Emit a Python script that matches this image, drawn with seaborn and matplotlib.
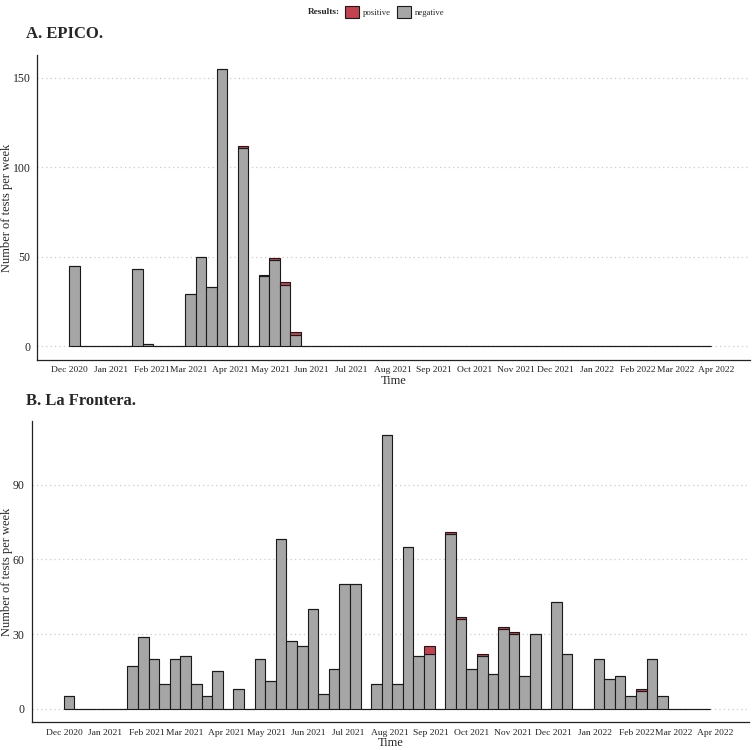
import pandas as pd
import matplotlib
matplotlib.use("Agg")
import matplotlib.pyplot as plt
import matplotlib.dates as mdates
from matplotlib.patches import Patch
import seaborn as sns

# -----------------------------
# DATA : tests per bin (61 bins of ~8 days from 1 Dec 2020)
# -----------------------------
bin_edges = pd.date_range("2020-12-01", "2022-03-28", periods=62)

epico_negative = [45, 0, 0, 0, 0, 0, 43, 1, 0, 0, 0, 29, 50, 33, 155, 0, 111, 0, 39, 48,
                  34, 6, 0, 0, 0, 0, 0, 0, 0, 0, 0, 0, 0, 0, 0, 0, 0, 0, 0, 0,
                  0, 0, 0, 0, 0, 0, 0, 0, 0, 0, 0, 0, 0, 0, 0, 0, 0, 0, 0, 0, 0]
epico_positive = [0, 0, 0, 0, 0, 0, 0, 0, 0, 0, 0, 0, 0, 0, 0, 0, 1, 0, 1, 1,
                  2, 2, 0, 0, 0, 0, 0, 0, 0, 0, 0, 0, 0, 0, 0, 0, 0, 0, 0, 0,
                  0, 0, 0, 0, 0, 0, 0, 0, 0, 0, 0, 0, 0, 0, 0, 0, 0, 0, 0, 0, 0]

frontera_negative = [5, 0, 0, 0, 0, 0, 17, 29, 20, 10, 20, 21, 10, 5, 15, 0, 8, 0, 20, 11,
                     68, 27, 25, 40, 6, 16, 50, 50, 0, 10, 110, 10, 65, 21, 22, 0, 70, 36, 16, 21,
                     14, 32, 30, 13, 30, 0, 43, 22, 0, 0, 20, 12, 13, 5, 7, 20, 5, 0, 0, 0, 0]
frontera_positive = [0, 0, 0, 0, 0, 0, 0, 0, 0, 0, 0, 0, 0, 0, 0, 0, 0, 0, 0, 0,
                     0, 0, 0, 0, 0, 0, 0, 0, 0, 0, 0, 0, 0, 0, 3, 0, 1, 1, 0, 1,
                     0, 1, 1, 0, 0, 0, 0, 0, 0, 0, 0, 0, 0, 0, 1, 0, 0, 0, 0, 0, 0]

results = ["positive", "negative"]
colors = {"positive": "#C4424F", "negative": "#A6A6A6"}

edges_num = list(mdates.date2num(bin_edges))
centers_num = [(a + b) / 2 for a, b in zip(edges_num[:-1], edges_num[1:])]


def make_frame(neg, pos):
    rows = []
    for c, n, p in zip(centers_num, neg, pos):
        rows.append({"date": c, "Results": "positive", "count": p})
        rows.append({"date": c, "Results": "negative", "count": n})
    return pd.DataFrame(rows)


sns.set_style("white")
plt.rcParams["font.family"] = ["Liberation Serif", "DejaVu Serif"]

fig = plt.figure(figsize=(7.53, 7.5), dpi=100)
ax_a = fig.add_axes([0.0495, 0.52, 0.9465, 0.4067])
ax_b = fig.add_axes([0.0421, 0.0367, 0.9526, 0.402])

panels = [
    (ax_a, make_frame(epico_negative, epico_positive), [0, 50, 100, 150], (-7.75, 162.75), -0.034),
    (ax_b, make_frame(frontera_negative, frontera_positive), [0, 30, 60, 90], (-5.5, 115.5), -0.026),
]

for ax, df, yticks, ylim, ylab_x in panels:
    sns.histplot(data=df, x="date", weights="count", hue="Results", hue_order=results,
                 multiple="stack", bins=edges_num, palette=colors, alpha=1,
                 edgecolor="#1a1a1a", linewidth=0.8, legend=False, ax=ax, zorder=3)
    ax.set_xlim(mdates.date2num(pd.Timestamp("2020-11-07")),
                mdates.date2num(pd.Timestamp("2022-04-26")))
    ax.set_ylim(*ylim)
    ax.set_yticks(yticks)
    ax.xaxis.set_major_locator(mdates.MonthLocator())
    ax.xaxis.set_major_formatter(mdates.DateFormatter("%b %Y"))
    ax.grid(axis="y", linestyle=(0, (1, 2.5)), color="#cccccc", linewidth=0.9, zorder=0)
    ax.grid(axis="x", visible=False)
    for side in ["top", "right"]:
        ax.spines[side].set_visible(False)
    for side in ["left", "bottom"]:
        ax.spines[side].set_color("#222222")
        ax.spines[side].set_linewidth(0.9)
    ax.tick_params(axis="x", labelsize=6.8, length=3, width=0.8, color="#333333",
                   labelcolor="#222222", pad=1.5)
    ax.tick_params(axis="y", labelsize=8.5, length=3, width=0.8, color="#333333",
                   labelcolor="#222222", pad=2)
    ax.set_xlabel("Time", fontsize=9, labelpad=0.5)
    ax.set_ylabel("Number of tests per week", fontsize=9)
    ax.yaxis.set_label_coords(ylab_x, 0.5)

# panel titles
fig.text(26 / 753, 1 - 38 / 750, "A. EPICO.", fontsize=12, fontweight="bold", va="baseline")
fig.text(26 / 753, 1 - 405 / 750, "B. La Frontera.", fontsize=12, fontweight="bold", va="baseline")

# legend on top
fig.text(340 / 753, 1 - 12 / 750, "Results:", fontsize=6.7, fontweight="bold",
         ha="right", va="center")
handles = [Patch(facecolor=colors[r], edgecolor="#1a1a1a", linewidth=0.8) for r in results]
fig.legend(handles, results, loc="center left", bbox_to_anchor=(345 / 753, 1 - 12 / 750),
           ncol=2, frameon=False, fontsize=6.3, handlelength=1.6, handleheight=1.9,
           handletextpad=0.45, columnspacing=0.7, borderpad=0, borderaxespad=0)

fig.savefig("out.png", dpi=100)
